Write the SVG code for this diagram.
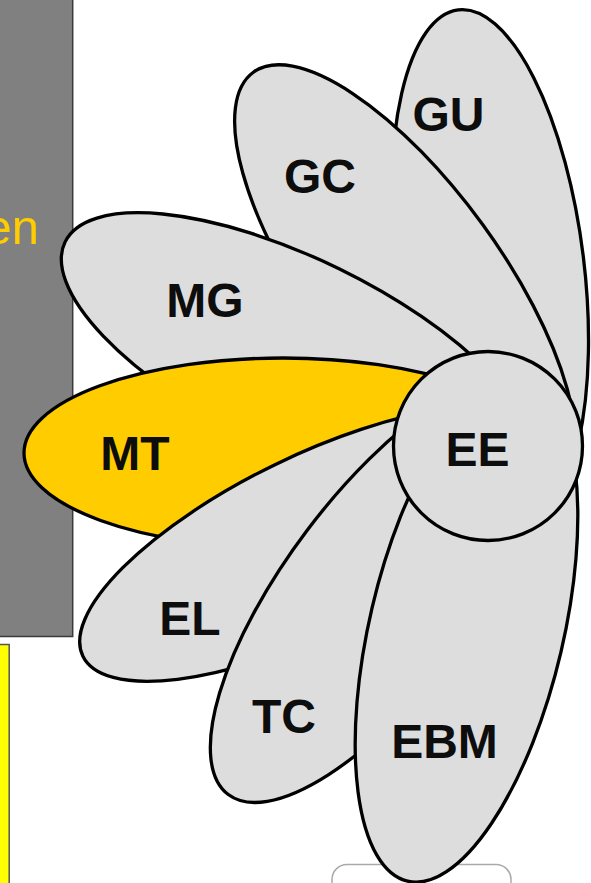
<svg xmlns="http://www.w3.org/2000/svg" width="591" height="883" viewBox="0 0 591 883">
<style>
.petal{fill:#DDDDDD;stroke:#000;stroke-width:3.3}
.hl{fill:#FFCC00}
.lbl{font-family:"Liberation Sans",Arial,sans-serif;font-weight:bold;font-size:48px;fill:#0d0d0d;text-anchor:middle}
</style>
<g id="background">
<rect x="-2" y="-2" width="74.7" height="638.5" fill="#808080" stroke="#3a3a3a" stroke-width="1.5"/>
<text x="39" y="243.5" font-family="Liberation Sans, Arial, sans-serif" font-size="49" fill="#FFCC00" text-anchor="end">en</text>
<rect x="-2" y="644.5" width="11.2" height="245" fill="#FFFF00" stroke="#555" stroke-width="1.5"/>
<rect x="332" y="864.5" width="179" height="40" rx="15" fill="#fff" stroke="#aaa" stroke-width="1.5"/>
</g>
<g id="connectors"/>
<g id="GU">
<ellipse class="petal" cx="490" cy="268" rx="94" ry="260" transform="rotate(-7 490 268)"/>
<text class="lbl" x="448.5" y="131">GU</text>
</g>
<g id="GC">
<ellipse class="petal" cx="405" cy="281" rx="258" ry="96" transform="rotate(54 405 281)"/>
<text class="lbl" x="320" y="193">GC</text>
</g>
<g id="MG">
<ellipse class="petal" cx="297" cy="355" rx="258" ry="96" transform="rotate(26 297 355)"/>
<text class="lbl" x="205" y="317">MG</text>
</g>
<g id="MT">
<ellipse class="petal hl" cx="283" cy="453" rx="259" ry="95"/>
<text class="lbl" x="135" y="470">MT</text>
</g>
<g id="EL">
<ellipse class="petal" cx="313" cy="544" rx="256" ry="88" transform="rotate(-26 313 544)"/>
<text class="lbl" x="190" y="635">EL</text>
</g>
<g id="TC">
<ellipse class="petal" cx="383.5" cy="588.5" rx="258" ry="96" transform="rotate(-53 383.5 588.5)"/>
<text class="lbl" x="284" y="733">TC</text>
</g>
<g id="EBM">
<ellipse class="petal" cx="466.5" cy="630" rx="258" ry="97" transform="rotate(-76.8 466.5 630)"/>
<text class="lbl" x="444.5" y="758">EBM</text>
</g>
<g id="EE">
<circle class="petal" cx="488" cy="446" r="94.5"/>
<text class="lbl" x="477.5" y="466">EE</text>
</g>
</svg>
